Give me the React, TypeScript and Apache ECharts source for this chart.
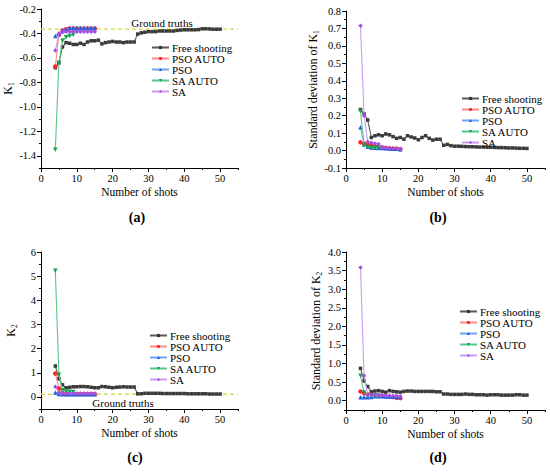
import React, { useEffect, useRef } from "react";
import * as echarts from "echarts";

const FONT = "'Liberation Serif', 'Times New Roman', 'DejaVu Serif', serif";

const shotsLong = [4,5,6,7,8,9,10,11,12,13,14,15,16,17,18,19,20,21,22,23,24,25,26,27,28,29,30,31,32,33,34,35,36,37,38,39,40,41,42,43,44,45,46,47,48,49,50];
const shotsShort = [4,5,6,7,8,9,10,11,12,13,14,15];
const shotsSaAuto = [4,5,6,7,8,9];

const seriesNames = ["Free shooting", "PSO AUTO", "PSO", "SA AUTO", "SA"];
const xTickLabels = [0, 10, 20, 30, 40, 50];

// (a) K1
const k1Free = [-0.68,-0.64,-0.51,-0.475,-0.48,-0.49,-0.49,-0.48,-0.49,-0.47,-0.46,-0.46,-0.455,-0.485,-0.475,-0.47,-0.465,-0.47,-0.47,-0.475,-0.47,-0.47,-0.47,-0.405,-0.395,-0.39,-0.385,-0.385,-0.385,-0.38,-0.38,-0.38,-0.38,-0.38,-0.375,-0.372,-0.37,-0.37,-0.37,-0.37,-0.368,-0.362,-0.362,-0.363,-0.365,-0.365,-0.365];
const k1PsoAuto = [-0.67,-0.41,-0.375,-0.365,-0.36,-0.36,-0.36,-0.36,-0.36,-0.36,-0.36,-0.36];
const k1Pso = [-0.42,-0.40,-0.38,-0.365,-0.355,-0.355,-0.355,-0.355,-0.355,-0.355,-0.355,-0.355];
const k1SaAuto = [-1.35,-0.64,-0.46,-0.43,-0.42,-0.41];
const k1Sa = [-0.54,-0.40,-0.39,-0.385,-0.385,-0.385,-0.385,-0.385,-0.385,-0.385,-0.385,-0.385];
const k1Truth = -0.365;
const k1Ticks = [-1.4,-1.2,-1.0,-0.8,-0.6,-0.4,-0.2];

// (b) SD of K1
const sdK1Free = [0.235,0.21,0.175,0.075,0.085,0.09,0.085,0.095,0.09,0.08,0.07,0.075,0.065,0.085,0.078,0.072,0.062,0.075,0.085,0.07,0.06,0.065,0.065,0.03,0.035,0.028,0.025,0.025,0.024,0.023,0.022,0.022,0.021,0.02,0.02,0.019,0.019,0.018,0.017,0.017,0.016,0.015,0.015,0.014,0.013,0.013,0.012];
const sdK1PsoAuto = [0.047,0.04,0.035,0.03,0.025,0.02,0.018,0.015,0.013,0.011,0.01,0.008];
const sdK1Pso = [0.133,0.035,0.022,0.018,0.016,0.015,0.014,0.013,0.012,0.011,0.01,0.008];
const sdK1SaAuto = [0.225,0.03,0.02,0.015,0.017,0.015];
const sdK1Sa = [0.715,0.2,0.05,0.045,0.04,0.038,0.02,0.016,0.013,0.012,0.012,0.01];
const sdK1Ticks = [-0.1,0,0.1,0.2,0.3,0.4,0.5,0.6,0.7,0.8];

// (c) K2
const k2Free = [1.28,0.75,0.5,0.38,0.4,0.42,0.42,0.43,0.43,0.42,0.4,0.38,0.38,0.43,0.42,0.4,0.38,0.4,0.41,0.42,0.41,0.41,0.41,0.13,0.13,0.15,0.15,0.15,0.15,0.15,0.14,0.14,0.14,0.14,0.14,0.14,0.14,0.13,0.13,0.13,0.13,0.13,0.13,0.12,0.12,0.12,0.12];
const k2PsoAuto = [0.97,0.35,0.15,0.12,0.12,0.12,0.12,0.12,0.12,0.12,0.12,0.12];
const k2Pso = [0.18,0.12,0.11,0.11,0.11,0.11,0.11,0.11,0.11,0.11,0.11,0.11];
const k2SaAuto = [5.22,0.92,0.28,0.22,0.21,0.2];
const k2Sa = [0.42,0.18,0.15,0.14,0.14,0.14,0.14,0.14,0.14,0.14,0.14,0.14];
const k2Truth = 0.11;
const k2Ticks = [0,1,2,3,4,5,6];

// (d) SD of K2
const sdK2Free = [0.87,0.53,0.38,0.24,0.26,0.27,0.25,0.23,0.27,0.25,0.24,0.23,0.25,0.26,0.26,0.25,0.25,0.25,0.25,0.25,0.25,0.24,0.24,0.18,0.18,0.17,0.17,0.17,0.17,0.18,0.17,0.17,0.16,0.16,0.16,0.15,0.16,0.16,0.16,0.15,0.15,0.15,0.15,0.16,0.16,0.15,0.15];
const sdK2PsoAuto = [0.25,0.2,0.17,0.16,0.15,0.14,0.13,0.12,0.11,0.1,0.08,0.07];
const sdK2Pso = [0.09,0.09,0.09,0.1,0.12,0.12,0.12,0.11,0.11,0.11,0.1,0.1];
const sdK2SaAuto = [0.67,0.22,0.15,0.14,0.13,0.13];
const sdK2Sa = [3.58,0.67,0.17,0.16,0.16,0.15,0.15,0.14,0.14,0.13,0.13,0.12];
const sdK2Ticks = [0,0.5,1.0,1.5,2.0,2.5,3.0,3.5,4.0];

const styles = [
  { symbol: "rect", rotate: 0, marker: "#3a3a3a", line: "#5a5a5a" },
  { symbol: "circle", rotate: 0, marker: "#ff2424", line: "#ff8a8a" },
  { symbol: "triangle", rotate: 0, marker: "#1f5fe0", line: "#6fa4f2" },
  { symbol: "triangle", rotate: 180, marker: "#13a04f", line: "#55c888" },
  { symbol: "diamond", rotate: 0, marker: "#a24fe2", line: "#c99cf2" },
];

const pair = (xs: number[], ys: number[]) => xs.map((x, i) => [x, ys[i]]);

const panels = [
  {
    grid: { left: 41, top: 9, width: 197, height: 159 },
    yMin: -1.5, yMax: -0.2, minor: 0.1, ticks: k1Ticks, dec: 1,
    name: "K{s|1}", nameGap: 23, legend: { left: 151, top: 42 },
    data: [pair(shotsLong, k1Free), pair(shotsShort, k1PsoAuto), pair(shotsShort, k1Pso), pair(shotsSaAuto, k1SaAuto), pair(shotsShort, k1Sa)],
    truth: k1Truth,
  },
  {
    grid: { left: 346, top: 11, width: 199, height: 157 },
    yMin: -0.1, yMax: 0.8, minor: 0.05, ticks: sdK1Ticks, dec: 1,
    name: "Standard deviation of K{s|1}", nameGap: 23, legend: { left: 461, top: 93 },
    data: [pair(shotsLong, sdK1Free), pair(shotsShort, sdK1PsoAuto), pair(shotsShort, sdK1Pso), pair(shotsSaAuto, sdK1SaAuto), pair(shotsShort, sdK1Sa)],
    truth: null,
  },
  {
    grid: { left: 41, top: 252, width: 197, height: 157 },
    yMin: -0.5, yMax: 6, minor: 0.5, ticks: k2Ticks, dec: 0,
    name: "K{s|2}", nameGap: 23, legend: { left: 149, top: 330 },
    data: [pair(shotsLong, k2Free), pair(shotsShort, k2PsoAuto), pair(shotsShort, k2Pso), pair(shotsSaAuto, k2SaAuto), pair(shotsShort, k2Sa)],
    truth: k2Truth,
  },
  {
    grid: { left: 346, top: 252, width: 199, height: 158 },
    yMin: -0.25, yMax: 4, minor: 0.25, ticks: sdK2Ticks, dec: 1,
    name: "Standard deviation of K{s|2}", nameGap: 23, legend: { left: 459, top: 306 },
    data: [pair(shotsLong, sdK2Free), pair(shotsShort, sdK2PsoAuto), pair(shotsShort, sdK2Pso), pair(shotsSaAuto, sdK2SaAuto), pair(shotsShort, sdK2Sa)],
    truth: null,
  },
];

const txt = { fontFamily: FONT, color: "#000" };

export default function App() {
  const ref = useRef<HTMLDivElement>(null);
  useEffect(() => {
    document.body.style.margin = "0";
    if (!ref.current) return;
    const chart = echarts.init(ref.current, null, { renderer: "svg" });
    const grid: any[] = [];
    const xAxis: any[] = [];
    const yAxis: any[] = [];
    const series: any[] = [];
    const legend: any[] = [];
    panels.forEach((p, i) => {
      grid.push({ ...p.grid, containLabel: false });
      xAxis.push({
        type: "value", gridIndex: i, min: 0, max: 55, position: "bottom",
        axisLine: { show: true, onZero: false, lineStyle: { color: "#000", width: 1 } },
        axisTick: { show: true, length: 4, customValues: xTickLabels, lineStyle: { color: "#000" } },
        axisLabel: { customValues: xTickLabels, fontSize: 10.5, margin: 5, ...txt },
        splitLine: { show: false },
        name: "Number of shots", nameLocation: "middle", nameGap: 18,
        nameTextStyle: { fontSize: 11.5, ...txt },
      });
      xAxis.push({
        type: "value", gridIndex: i, min: 0, max: 55, interval: 5, position: "bottom",
        axisLine: { show: false, onZero: false },
        axisTick: { show: true, length: 2, lineStyle: { color: "#000" } },
        axisLabel: { show: false }, splitLine: { show: false },
      });
      yAxis.push({
        type: "value", gridIndex: i, min: p.yMin, max: p.yMax, position: "left",
        axisLine: { show: true, onZero: false, lineStyle: { color: "#000", width: 1 } },
        axisTick: { show: true, length: 4, customValues: p.ticks, lineStyle: { color: "#000" } },
        axisLabel: { customValues: p.ticks, fontSize: 10.5, margin: 5, formatter: (v: number) => v.toFixed(p.dec), ...txt },
        splitLine: { show: false },
        name: p.name, nameLocation: "middle", nameGap: p.nameGap,
        nameTextStyle: { fontSize: 12, lineHeight: 14, ...txt, rich: { s: { fontSize: 7.5, verticalAlign: "bottom", lineHeight: 14, ...txt } } },
      });
      yAxis.push({
        type: "value", gridIndex: i, min: p.yMin, max: p.yMax, interval: p.minor, position: "left",
        axisLine: { show: false, onZero: false },
        axisTick: { show: true, length: 2, lineStyle: { color: "#000" } },
        axisLabel: { show: false }, splitLine: { show: false },
      });
      if (p.truth !== null) {
        series.push({
          type: "line", name: "Ground truths", xAxisIndex: 2 * i, yAxisIndex: 2 * i,
          data: [[0, p.truth], [55, p.truth]], showSymbol: false, symbol: "none",
          lineStyle: { color: "#d6d94a", width: 1.3, type: [4, 3] }, silent: true, z: 1,
        });
      }
      p.data.forEach((d, j) => {
        const st = styles[j];
        series.push({
          type: "line", name: seriesNames[j], xAxisIndex: 2 * i, yAxisIndex: 2 * i,
          data: d, symbol: st.symbol, symbolRotate: st.rotate, symbolSize: j === 0 ? 3.5 : 4.5,
          showAllSymbol: true,
          itemStyle: { color: st.marker },
          lineStyle: { color: st.line, width: 1.1 },
          z: 2 + j,
        });
      });
      legend.push({
        data: seriesNames, orient: "vertical", left: p.legend.left, top: p.legend.top,
        itemWidth: 17, itemHeight: 4, itemGap: 0, padding: 0, selectedMode: false,
        textStyle: { fontSize: 11, lineHeight: 11, padding: [0, 0, 0, -2], ...txt },
      });
    });
    const lbl = (text: string, x: number, y: number) => ({
      type: "text", x, y,
      style: { text, fontSize: 14, fontWeight: "bold", fontFamily: FONT, fill: "#000", align: "center", verticalAlign: "middle" },
    });
    const graphic: any[] = [
      lbl("(a)", 137, 217), lbl("(b)", 438, 217), lbl("(c)", 135, 457), lbl("(d)", 438, 457),
      { type: "text", x: 162, y: 23, style: { text: "Ground truths", fontSize: 11, fontFamily: FONT, fill: "#000", align: "center", verticalAlign: "middle" } },
      { type: "text", x: 123, y: 403, style: { text: "Ground truths", fontSize: 11, fontFamily: FONT, fill: "#000", align: "center", verticalAlign: "middle" } },
    ];
    chart.setOption({
      animation: false,
      backgroundColor: "#fff",
      grid, xAxis, yAxis, series, legend, graphic,
    });
    return () => chart.dispose();
  }, []);
  return <div ref={ref} style={{ width: 550, height: 473 }} />;
}
